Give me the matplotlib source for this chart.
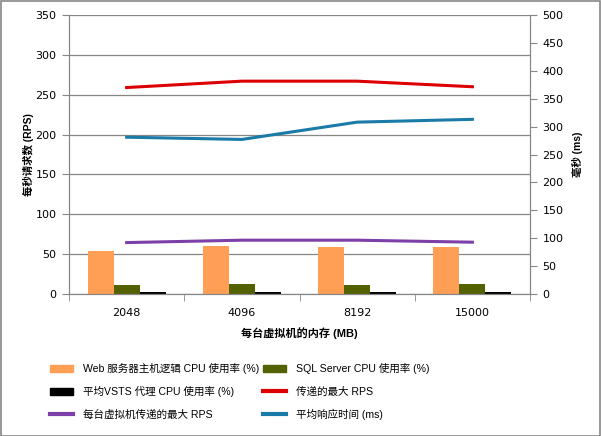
import numpy as np
import matplotlib.pyplot as plt
from matplotlib.patches import Patch
from matplotlib.lines import Line2D

plt.rcParams['font.family'] = ['DejaVu Sans', 'Noto Sans CJK SC']

# 数据
memory = ["2048", "4096", "8192", "15000"]
web_cpu = [54, 60, 59, 59]
sql_cpu = [11, 12.5, 11, 12.5]
vsts_cpu = [3, 3, 3, 3]
max_rps = [259, 267, 267, 260]
max_rps_per_vm = [64.5, 67.5, 67.5, 65]
avg_resp_ms = [281, 277, 308, 313]

fig = plt.figure(figsize=(6.01, 4.36), dpi=100)
ax = fig.add_axes([69/601, 1 - 294/436, 461/601, 279/436])
ax2 = ax.twinx()

x = np.arange(len(memory))
w = 0.226
grey = "#868686"
txt_font = ['Liberation Sans', 'Noto Sans CJK SC']

ax.bar(x - w, web_cpu, w, color="#ff9f55", zorder=2)
ax.bar(x, sql_cpu, w, color="#546100", zorder=2)
ax.bar(x + w, vsts_cpu, w, color="#000000", zorder=2)
ax.plot(x, max_rps, color="#dd0000", lw=2.2, zorder=3)
ax.plot(x, max_rps_per_vm, color="#7d3fa8", lw=2.2, zorder=3)
ax2.plot(x, avg_resp_ms, color="#1a7aa8", lw=2.2, zorder=3)

ax.set_xlim(-0.5, 3.5)
ax.set_ylim(0, 350)
ax.set_yticks(range(0, 351, 50))
ax2.set_ylim(0, 500)
ax2.set_yticks(range(0, 501, 50))

ax.yaxis.grid(True, color=grey, lw=0.9)
ax.set_axisbelow(True)

ax.set_xticks(x)
ax.set_xticklabels(memory)
ax.set_xticks(np.arange(-0.5, 4, 1), minor=True)
ax.tick_params(axis="x", which="major", length=0, pad=10, labelsize=8)
ax.tick_params(axis="x", which="minor", length=5, color=grey)
ax.tick_params(axis="y", length=5, color=grey, labelsize=8, pad=4)
ax2.tick_params(axis="y", length=5, color=grey, labelsize=8, pad=4)

for a in (ax, ax2):
    a.spines["top"].set_visible(False)
    for s in ("left", "right", "bottom"):
        a.spines[s].set_color(grey)

ax.set_xlabel("每台虚拟机的内存 (MB)", fontsize=8, fontweight="bold", labelpad=7, family=txt_font)
ax.set_ylabel("每秒请求数 (RPS)", fontsize=7.5, fontweight="bold", labelpad=1, family=txt_font)
ax2.set_ylabel("毫秒 (ms)", fontsize=7.5, fontweight="bold", rotation=90, labelpad=6, family=txt_font)

handles = [
    Patch(color="#ff9f55", label="Web 服务器主机逻辑 CPU 使用率 (%)"),
    Patch(color="#000000", label="平均VSTS 代理 CPU 使用率 (%)"),
    Line2D([], [], color="#7d3fa8", lw=3, label="每台虚拟机传递的最大 RPS"),
    Patch(color="#546100", label="SQL Server CPU 使用率 (%)"),
    Line2D([], [], color="#dd0000", lw=3, label="传递的最大 RPS"),
    Line2D([], [], color="#1a7aa8", lw=3, label="平均响应时间 (ms)"),
]
fig.legend(handles=handles, ncol=2, loc="upper left", bbox_to_anchor=(46/601, 1 - 359/436),
           frameon=False, prop={'family': txt_font, 'size': 7.6},
           handlelength=2.2, handleheight=0.65, borderaxespad=0,
           columnspacing=0.3, labelspacing=1.15, handletextpad=0.95)

fig.patches.append(plt.Rectangle((0.001, 0.001), 0.997, 0.997, transform=fig.transFigure,
                                 fill=False, edgecolor=grey, lw=1.2))

fig.savefig("out.png", dpi=100)
